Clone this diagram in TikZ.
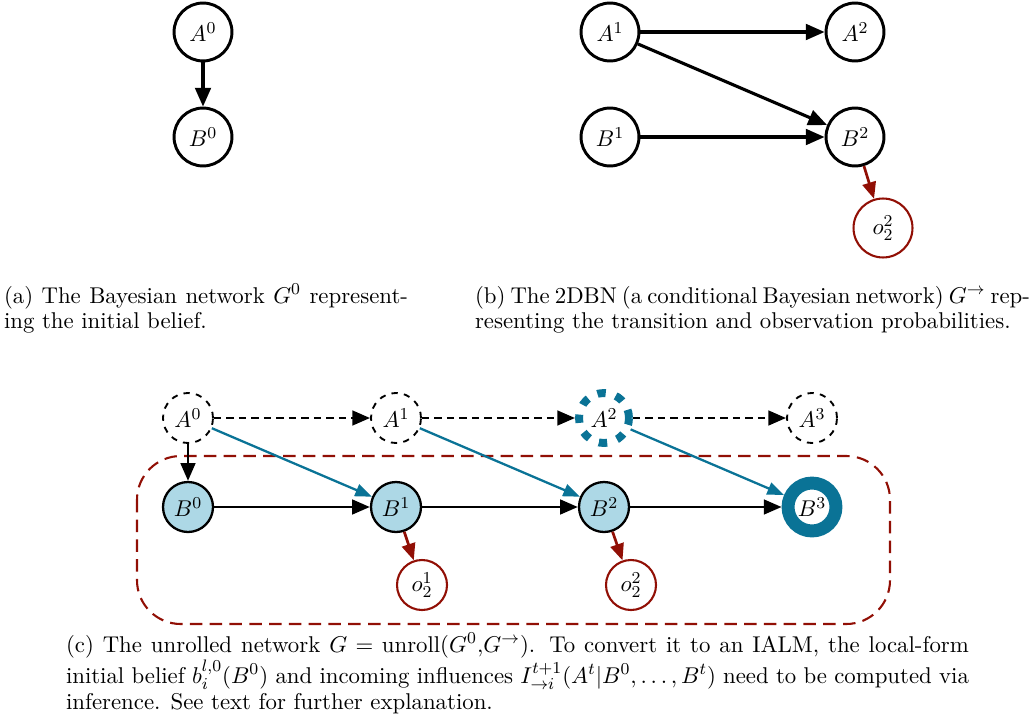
\RequirePackage{fix-cm}
\documentclass[tikz,border=0pt]{standalone}
\usetikzlibrary{arrows.meta}

\definecolor{infblue}{RGB}{10,115,150}
\definecolor{obsred}{RGB}{145,15,5}
\definecolor{statefill}{RGB}{173,216,230}

\tikzset{
  bignode/.style={circle,draw=black,line width=1.4pt,minimum size=27.8pt,inner sep=0pt},
  bigobs/.style={circle,draw=obsred,line width=1pt,minimum size=28.3pt,inner sep=0pt},
  hiddenA/.style={circle,draw=black,dashed,line width=0.9pt,minimum size=24pt,inner sep=0pt},
  localB/.style={circle,draw=black,fill=statefill,line width=1.1pt,minimum size=24pt,inner sep=0pt},
  smallobs/.style={circle,draw=obsred,line width=1pt,minimum size=24pt,inner sep=0pt},
  bigarrow/.style={-{Triangle[length=9pt,width=7.5pt]},line width=1.5pt},
  linkarrow/.style={-{Triangle[length=8.5pt,width=7pt]},line width=1.3pt},
  obsarrow/.style={-{Triangle[length=8pt,width=6.5pt]},draw=obsred,line width=1.3pt},
  infarrow/.style={-{Triangle[length=8pt,width=6pt]},draw=infblue,line width=1.1pt},
  hidarrow/.style={linkarrow,dash pattern=on 3.5pt off 2.5pt},
  capline/.style={anchor=base west,inner sep=0pt,outer sep=0pt},
}

\begin{document}
\begin{tikzpicture}[x=0.48pt,y=-0.48pt,font=\fontsize{10.95pt}{13.6pt}\selectfont]
\useasboundingbox (0,0) rectangle (1034,717);

% ---------- (a) initial belief network ----------
\node[bignode] (a0) at (203,32) {$A^0$};
\node[bignode] (b0) at (203,137) {$B^0$};
\draw[bigarrow] (a0) -- (b0);

% ---------- (b) two-stage DBN ----------
\node[bignode] (a1) at (610,32) {$A^1$};
\node[bignode] (a2) at (855,32) {$A^2$};
\node[bignode] (b1) at (610,137) {$B^1$};
\node[bignode] (b2) at (855,137) {$B^2$};
\node[bigobs] (o2) at (883,228) {$o_2^2$};
\draw[bigarrow] (a1) -- (a2);
\draw[bigarrow] (a1) -- (b2);
\draw[bigarrow] (b1) -- (b2);
\draw[obsarrow] (b2) -- (o2);

% captions of (a) and (b)
\node[capline] (capa1) at (4,303) {\makebox[193.9pt][s]{(a) The Bayesian network $G^0$ represent-}};
\node[capline] (capa2) at (4,328) {ing the initial belief.};
\node[capline] (capb1) at (475,303) {\makebox[265.4pt][s]{(b) The 2DBN (a conditional Bayesian network) $G^{\to}$ rep-}};
\node[capline] (capb2) at (475,328) {resenting the transition and observation probabilities.};

% ---------- (c) unrolled network ----------
\draw[obsred,line width=1pt,dash pattern=on 6pt off 3.5pt,rounded corners=21pt]
  (137,456) rectangle (890,624);

\node[hiddenA] (ua0) at (188,418) {$A^0$};
\node[hiddenA] (ua1) at (396,418) {$A^1$};
\node[circle,draw=infblue,line width=3.8pt,dash pattern=on 4pt off 5pt,
      minimum size=24pt,inner sep=0pt] (ua2) at (604,418) {$A^2$};
\node[hiddenA] (ua3) at (812,418) {$A^3$};

\node[localB] (ub0) at (188,507) {$B^0$};
\node[localB] (ub1) at (396,507) {$B^1$};
\node[localB] (ub2) at (604,507) {$B^2$};
\node[circle,draw=infblue,fill=white,line width=6.2pt,minimum size=23pt,inner sep=0pt]
  (ub3) at (812,507) {$B^3$};

\node[smallobs] (uo1) at (422,585) {$o_2^1$};
\node[smallobs] (uo2) at (631,585) {$o_2^2$};

\draw[hidarrow] (ua0) -- (ua1);
\draw[hidarrow] (ua1) -- (ua2);
\draw[hidarrow] (ua2) -- (ua3);
\draw[linkarrow] (ua0) -- (ub0);

\draw[linkarrow] (ub0) -- (ub1);
\draw[linkarrow] (ub1) -- (ub2);
\draw[linkarrow] (ub2) -- (ub3);

\draw[infarrow] (ua0) -- (ub1);
\draw[infarrow] (ua1) -- (ub2);
\draw[infarrow] (ua2) -- (ub3);

\draw[obsarrow] (ub1) -- (uo1);
\draw[obsarrow] (ub2) -- (uo2);

% caption of (c)
\node[capline] (capc1) at (66,652) {\makebox[433.4pt][s]{(c) The unrolled network $G=\mathrm{unroll}(G^0{,}G^{\to})$. To convert it to an IALM, the local-form}};
\node[capline] (capc2) at (66,683) {\makebox[433.4pt][s]{initial belief $b_i^{l,0}(B^0)$ and incoming influences $I_{\to i}^{t+1}(A^t|B^0,\ldots,B^t)$ need to be computed via}};
\node[capline] (capc3) at (66,709) {inference. See text for further explanation.};
\end{tikzpicture}
\end{document}
